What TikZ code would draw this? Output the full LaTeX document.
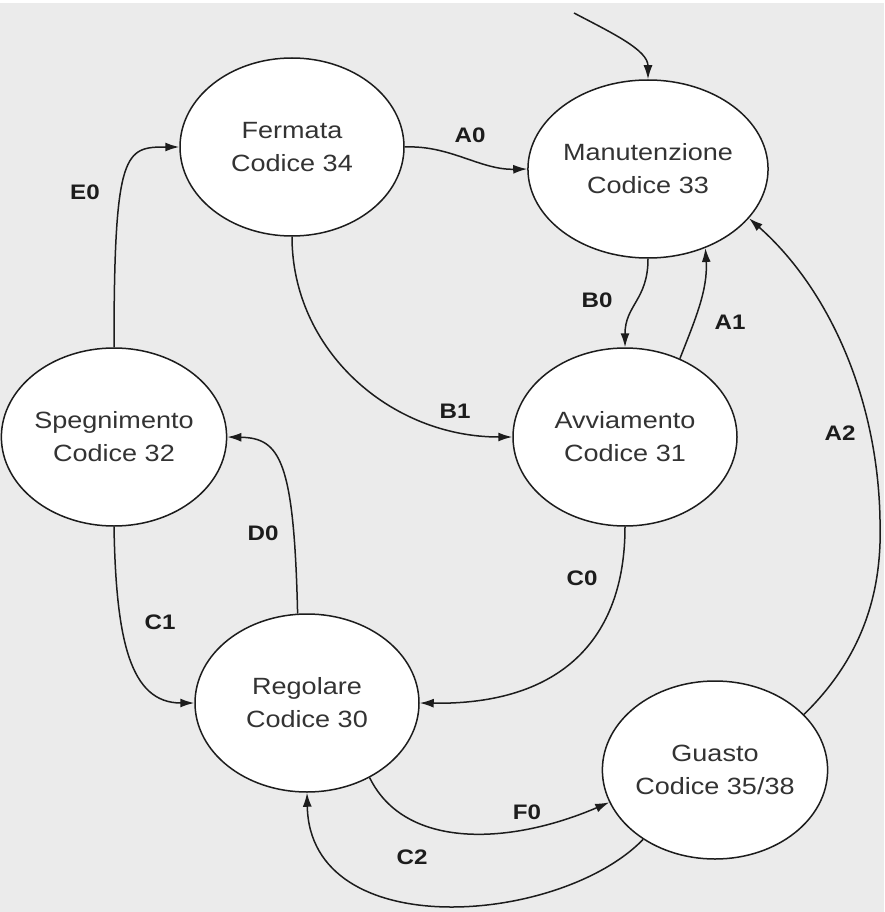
\documentclass[tikz,border=0pt]{standalone}
\usepackage{fontspec}
\usetikzlibrary{shapes.geometric,arrows.meta}
\newfontfamily\diagfont[FakeStretch=1.15]{Liberation Sans}
\definecolor{bgc}{HTML}{EBEBEB}
\definecolor{txtc}{HTML}{333333}
\definecolor{linec}{HTML}{1C1C1C}
\tikzset{
  state/.style={ellipse, draw=linec, line width=1.5pt, fill=white,
    minimum width=224pt, minimum height=178pt, inner sep=0pt,
    align=center, text=txtc, font=\diagfont\fontsize{23.5}{33}\selectfont},
  trans/.style={draw=linec, line width=1.5pt, -{Latex[length=14pt,width=9pt]}},
  lbl/.style={text=linec, font=\diagfont\bfseries\fontsize{21}{21}\selectfont, inner sep=0pt}
}
\begin{document}
\begin{tikzpicture}[x=1pt,y=-1pt]
\useasboundingbox (0,0) rectangle (884,912);
\fill[bgc] (0,0) rectangle (884,912);
\fill[white] (0,0) rectangle (884,3);

\node[state] (fer) at (292,147) {Fermata\\Codice 34};
\node[state] (man) at (648,169) {Manutenzione\\Codice 33};
\node[state] (spe) at (114,437) {Spegnimento\\Codice 32};
\node[state] (avv) at (625,437) {Avviamento\\Codice 31};
\node[state] (reg) at (307,703) {Regolare\\Codice 30};
\node[state] (gua) at (715,770) {Guasto\\Codice 35/38};

\coordinate (start) at (574,13);

% initial
\draw[trans] (start) .. controls (612,33) and (648,50) .. (man.north);
% A0
\draw[trans] (fer.east) .. controls (450,145) and (480,170) .. (man.west);
\node[lbl] (la0) at (470,135) {A0};
% E0
\draw[trans] (spe.north) .. controls (114,150) and (125,147) .. (fer.west);
\node[lbl] (le0) at (85,192) {E0};
% B1
\draw[trans] (fer.south) .. controls (292,350) and (390,437) .. (avv.west);
\node[lbl] (lb1) at (455,411) {B1};
% B0
\draw[trans] (man.south) .. controls (648,300) and (625,305) .. (avv.north);
\node[lbl] (lb0) at (597,300) {B0};
% A1
\draw[trans] (avv.55.5) .. controls (695,320) and (708,290) .. (man.-54);
\node[lbl] (la1) at (730,322) {A1};
% A2
\draw[trans] (gua.32) .. controls (870,650) and (882,580) .. (880,520)
  .. controls (878,400) and (830,290) .. (man.-26.8);
\node[lbl] (la2) at (840,433) {A2};
% C0
\draw[trans] (avv.south) .. controls (625,640) and (560,705) .. (reg.east);
\node[lbl] (lc0) at (582,578) {C0};
% D0
\draw[trans] (reg.96.3) .. controls (294,460) and (280,438) .. (spe.east);
\node[lbl] (ld0) at (263,533) {D0};
% C1
\draw[trans] (spe.south) .. controls (116,640) and (130,703) .. (reg.west);
\node[lbl] (lc1) at (160,622) {C1};
% F0
\draw[trans] (reg.-50) .. controls (405,850) and (510,845) .. (gua.-163);
\node[lbl] (lf0) at (527,812) {F0};
% C2
\draw[trans] (gua.-136.6) .. controls (560,925) and (310,945) .. (reg.south);
\node[lbl] (lc2) at (412,857) {C2};
\end{tikzpicture}
\end{document}
